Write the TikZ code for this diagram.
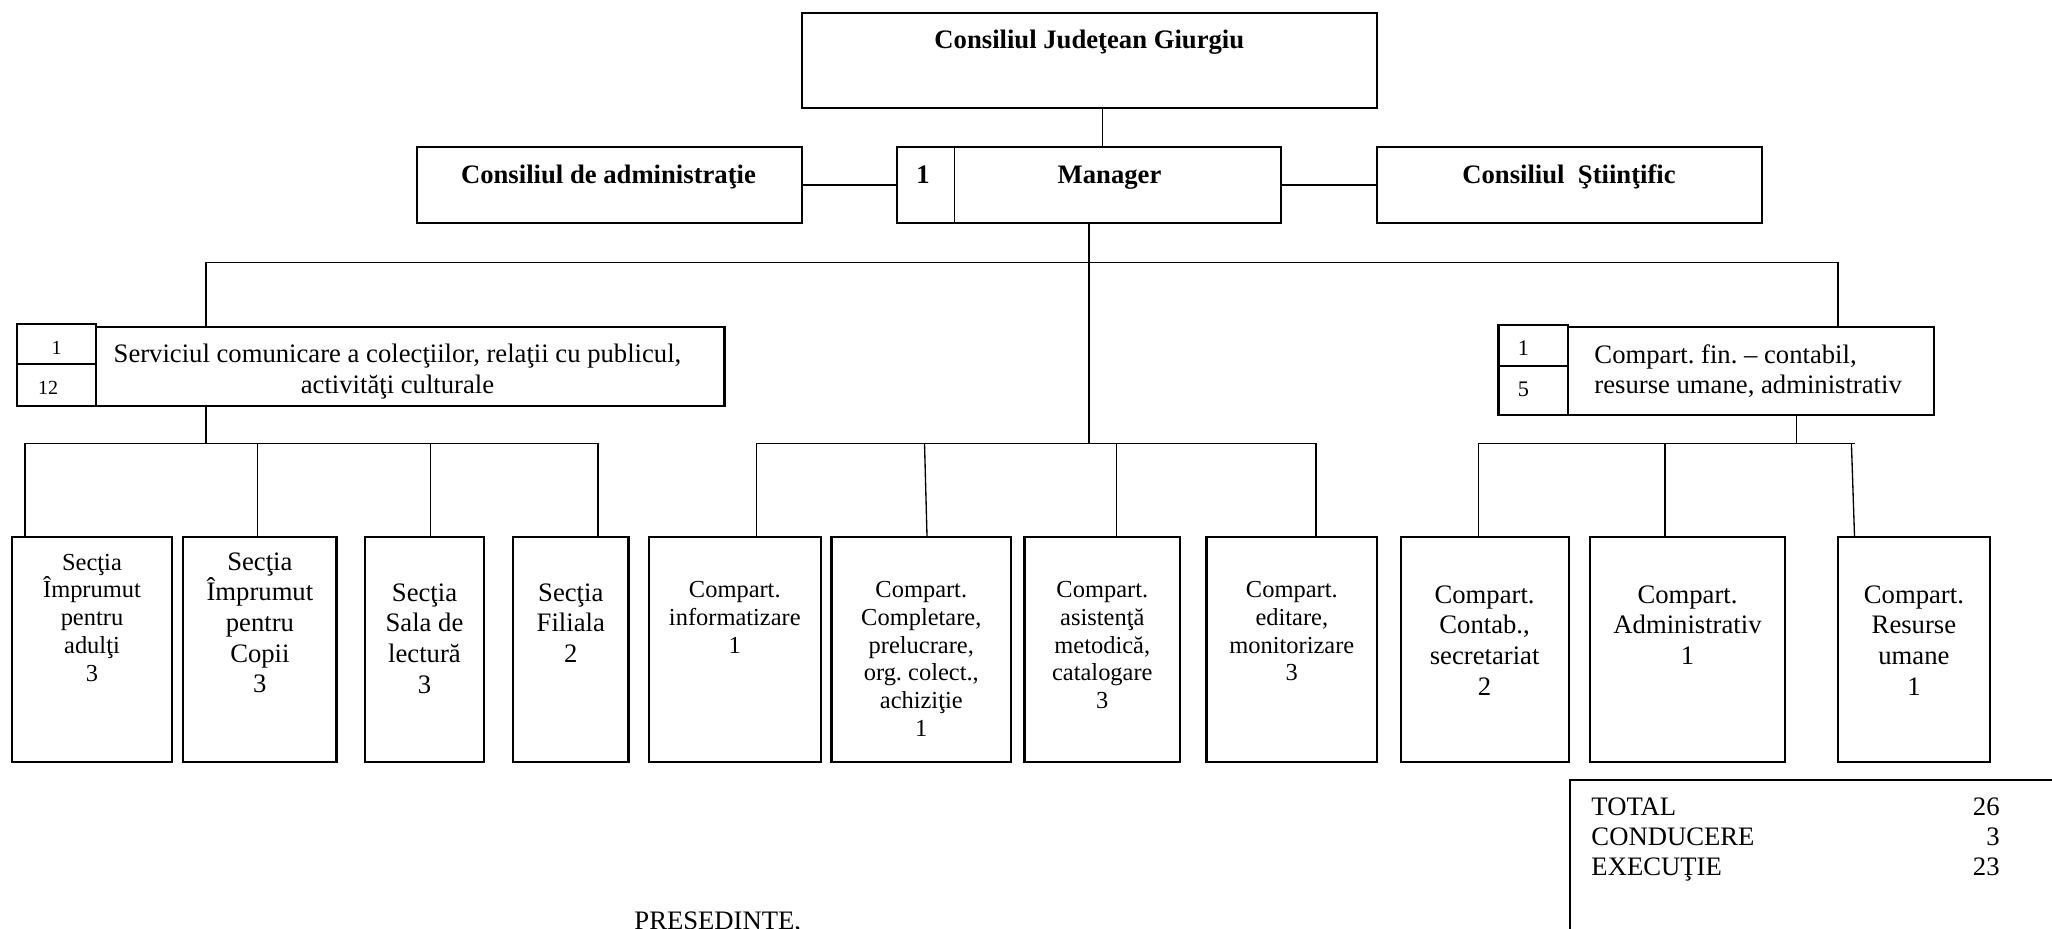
\documentclass[tikz,border=0pt]{standalone}
\usepackage{fontspec}
\setmainfont{Liberation Serif}
\usetikzlibrary{fit}
\frenchspacing

\begin{document}
\begin{tikzpicture}[x=0.45pt,y=-0.45pt,
  unit/.style={draw, line width=1pt, inner sep=0pt},
  link/.style={line width=0.6pt},
  head/.style={font=\fontsize{12}{13.8}\selectfont\bfseries, inner sep=0pt, anchor=base},
  big/.style={font=\fontsize{12}{13.8}\selectfont, align=center, inner sep=0pt, anchor=north},
  small/.style={font=\fontsize{11}{12.5}\selectfont, align=center, inner sep=0pt, anchor=north},
  num/.style={font=\fontsize{9}{10}\selectfont, inner sep=0pt, anchor=base}]
\useasboundingbox (0,0) rectangle (2052,928);
\clip (0,0) rectangle (2052,928);

% conducere
\node[unit, fit={(801.7,12.7) (1376.8,108.3)}] (cjg) {};
\node[unit, fit={(417,146.7) (801.7,223.3)}] (adm) {};
\node[unit, fit={(896.7,146.7) (1281,223.3)}] (mgr) {};
\node[unit, fit={(1376.8,146.7) (1761.6,223.3)}] (cst) {};
\node[head] (cjgt) at (1089.3,48.5) {Consiliul Judeţean Giurgiu};
\node[head] (admt) at (608.5,183.5) {Consiliul de administraţie};
\node[head] (mgrn) at (923,183.3) {1};
\node[head] (mgrt) at (1109.5,183.3) {Manager};
\node[head] (cstt) at (1569,183.3) {Consiliul~~Ştiinţific};
\draw[link] (mgr.north -| 954.3,0) -- (mgr.south -| 954.3,0);

% serviciu si compartiment fin.
\node[unit, fit={(16.7,324.3) (96.3,364.3)}] (srva) {};
\node[unit, fit={(16.7,364.3) (96.3,406)}] (srvb) {};
\node[unit, fit={(96.3,326.7) (724.5,406)}] (srv) {};
\node[num] (srvat) at (56.7,354) {1};
\node[num] (srvbt) at (48,394.3) {12};
\node[big] (srvt) at (397.5,343.6) {Serviciul comunicare a colecţiilor, relaţii cu publicul,\\activităţi culturale};
\node[unit, fit={(1498.5,325) (1568,365.7)}] (cfa) {};
\node[unit, fit={(1498.5,365.7) (1568,415)}] (cfb) {};
\node[unit, fit={(1568,326.7) (1934,415)}] (cf) {};
\node[num, font=\fontsize{10}{11}\selectfont] (cfat) at (1523.4,355) {1};
\node[num, font=\fontsize{10}{11}\selectfont] (cfbt) at (1523.4,396.5) {5};
\node[big, align=left, anchor=north west] (cft) at (1594,343.9) {Compart. fin. – contabil,\\resurse umane, administrativ};

% sectii
\node[unit, fit={(11.7,537.3) (172.3,761.7)}] (s1) {};
\node[unit, fit={(183.3,537.3) (336.5,761.7)}] (s2) {};
\node[unit, fit={(365,537.3) (484,761.7)}] (s3) {};
\node[unit, fit={(513,537.3) (628.6,761.7)}] (s4) {};
\node[small] (s1t) at (92,553.4) {Secţia\\Împrumut\\pentru\\adulţi\\3};
\node[big] (s2t) at (259.9,551.9) {Secţia\\Împrumut\\pentru\\Copii\\3};
\node[big] (s3t) at (424.5,582.9) {Secţia\\Sala de\\lectură\\3};
\node[big] (s4t) at (570.8,582.9) {Secţia\\Filiala\\2};

% compartimente
\node[unit, fit={(648.7,537.3) (820.8,761.7)}] (ca) {};
\node[unit, fit={(831.5,537.3) (1011,761.7)}] (cb) {};
\node[unit, fit={(1024.5,537.3) (1180,761.7)}] (cc) {};
\node[unit, fit={(1206.5,537.3) (1377,761.7)}] (cd) {};
\node[small] (cat) at (734.8,580.9) {Compart.\\informatizare\\1};
\node[small] (cbt) at (921.3,580.9) {Compart.\\Completare,\\prelucrare,\\org. colect.,\\achiziţie\\1};
\node[small] (cct) at (1102.3,580.9) {Compart.\\asistenţă\\metodică,\\catalogare\\3};
\node[small] (cdt) at (1291.8,580.9) {Compart.\\editare,\\monitorizare\\3};
\node[unit, fit={(1400.6,537.3) (1568.6,761.7)}] (ce) {};
\node[unit, fit={(1590,537.3) (1785,761.7)}] (cadm) {};
\node[unit, fit={(1837.8,537.3) (1990,761.7)}] (cg) {};
\node[big] (cet) at (1484.6,584.9) {Compart.\\Contab.,\\secretariat\\2};
\node[big] (cadmt) at (1687.5,584.9) {Compart.\\Administrativ\\1};
\node[big] (cgt) at (1913.9,584.9) {Compart.\\Resurse\\umane\\1};

% legaturi
\draw[link] (cjg.south -| 1102.6,0) -- (mgr.north -| 1102.6,0);
\draw[link] (adm.east) -- (mgr.west);
\draw[link] (mgr.east) -- (cst.west);
\draw[link] (srv.north -| 206,0) -- (206,262.3) -| (cf.north -| 1838,0);
\draw[link] (mgr.south) -- (mgr.south |- 0,443.3);
\draw[link] (srv.south -| 206,0) -- (206,443.3);
\draw[link] (s1.north -| 25,0) -- (25,443.3) -| (s4.north -| 598,0);
\draw[link] (s2.north -| 257.7,0) -- (257.7,443.3);
\draw[link] (s3.north -| 430.5,0) -- (430.5,443.3);
\draw[link] (ca.north -| 756.3,0) -- (756.3,443.3) -| (cd.north -| 1316,0);
\draw[link] (cb.north -| 927,0) -- (924.5,443.3);
\draw[link] (cc.north -| 1116.5,0) -- (1116.5,443.3);
\draw[link] (cf.south -| 1796.6,0) -- (1796.6,443.3);
\draw[link] (ce.north -| 1478.6,0) -- (1478.6,443.3) -- (1854.5,443.3);
\draw[link] (cadm.north -| 1665,0) -- (1665,443.3);
\draw[link] (cg.north -| 1854.5,0) -- (1851.4,443.3);

% total
\node[unit, fit={(1570,780) (2120,1000)}] (tot) {};
\node[big, align=left, anchor=north west, font=\fontsize{12}{13.5}\selectfont] (tott) at (1591,796.9) {TOTAL\\CONDUCERE\\EXECUŢIE};
\node[big, align=right, anchor=north east, font=\fontsize{12}{13.5}\selectfont] (totn) at (2000,796.9) {26\\3\\23};
\node[head, font=\fontsize{12}{13.8}\selectfont, anchor=base west] (pres) at (634,929.6) {PRESEDINTE,};
\end{tikzpicture}
\end{document}
